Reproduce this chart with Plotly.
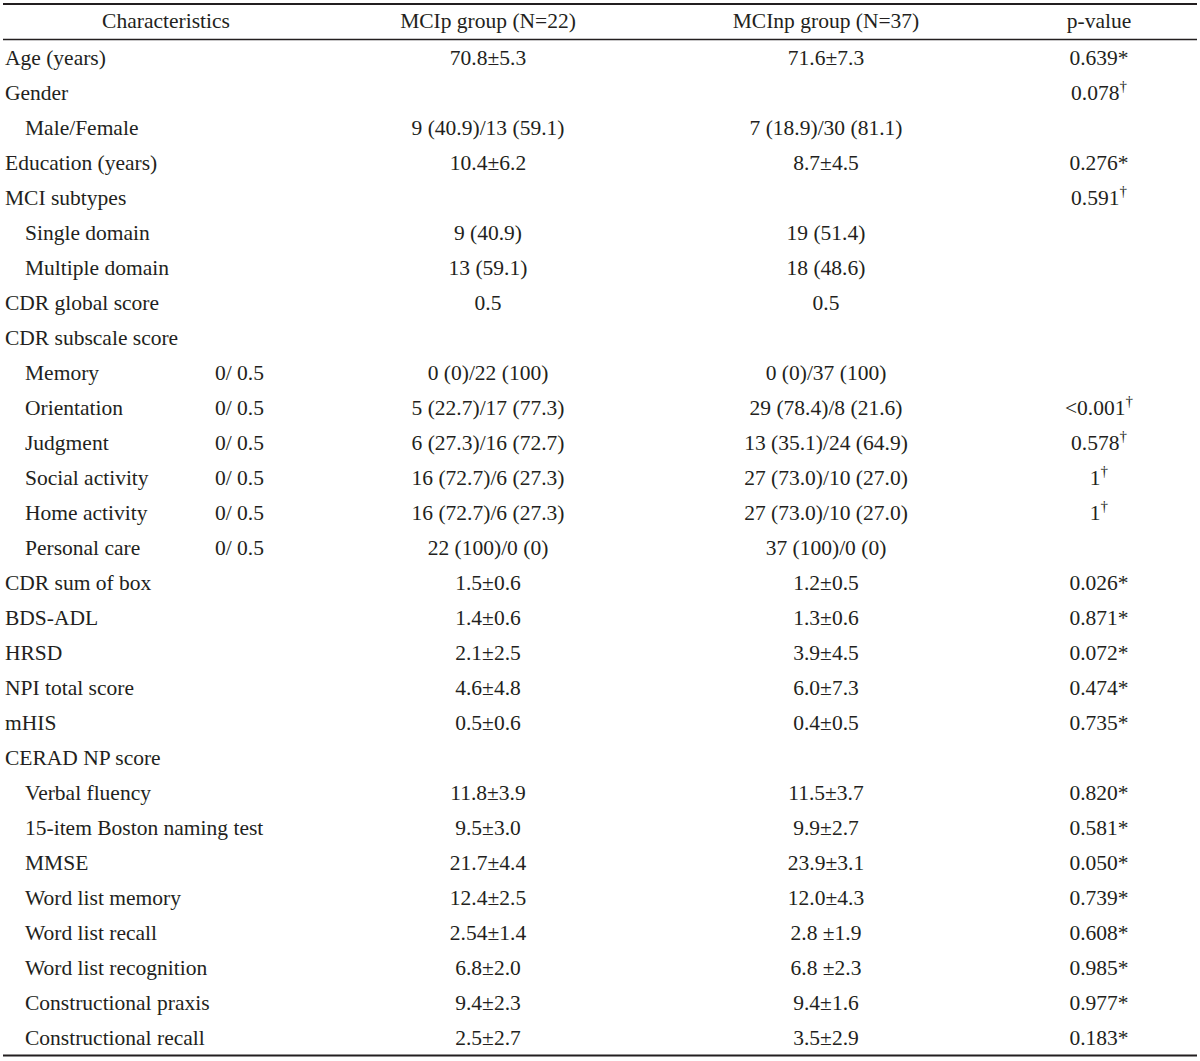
import plotly.graph_objects as go

# ---- data ----
headers = ["Characteristics", "MCIp group (N=22)", "MCInp group (N=37)", "p-value"]

characteristics = [
    "Age (years)", "Gender", "Male/Female", "Education (years)", "MCI subtypes",
    "Single domain", "Multiple domain", "CDR global score", "CDR subscale score",
    "Memory", "Orientation", "Judgment", "Social activity", "Home activity",
    "Personal care", "CDR sum of box", "BDS-ADL", "HRSD", "NPI total score",
    "mHIS", "CERAD NP score", "Verbal fluency", "15-item Boston naming test",
    "MMSE", "Word list memory", "Word list recall", "Word list recognition",
    "Constructional praxis", "Constructional recall",
]
is_sub = [
    False, False, True, False, False,
    True, True, False, False,
    True, True, True, True, True,
    True, False, False, False, False,
    False, False, True, True,
    True, True, True, True,
    True, True,
]
scale_labels = [
    "", "", "", "", "", "", "", "", "",
    "0/ 0.5", "0/ 0.5", "0/ 0.5", "0/ 0.5", "0/ 0.5", "0/ 0.5",
    "", "", "", "", "", "", "", "", "", "", "", "", "", "",
]
mcip = [
    "70.8±5.3", "", "9 (40.9)/13 (59.1)", "10.4±6.2", "",
    "9 (40.9)", "13 (59.1)", "0.5", "",
    "0 (0)/22 (100)", "5 (22.7)/17 (77.3)", "6 (27.3)/16 (72.7)",
    "16 (72.7)/6 (27.3)", "16 (72.7)/6 (27.3)", "22 (100)/0 (0)",
    "1.5±0.6", "1.4±0.6", "2.1±2.5", "4.6±4.8", "0.5±0.6", "",
    "11.8±3.9", "9.5±3.0", "21.7±4.4", "12.4±2.5", "2.54±1.4", "6.8±2.0",
    "9.4±2.3", "2.5±2.7",
]
mcinp = [
    "71.6±7.3", "", "7 (18.9)/30 (81.1)", "8.7±4.5", "",
    "19 (51.4)", "18 (48.6)", "0.5", "",
    "0 (0)/37 (100)", "29 (78.4)/8 (21.6)", "13 (35.1)/24 (64.9)",
    "27 (73.0)/10 (27.0)", "27 (73.0)/10 (27.0)", "37 (100)/0 (0)",
    "1.2±0.5", "1.3±0.6", "3.9±4.5", "6.0±7.3", "0.4±0.5", "",
    "11.5±3.7", "9.9±2.7", "23.9±3.1", "12.0±4.3", "2.8 ±1.9", "6.8 ±2.3",
    "9.4±1.6", "3.5±2.9",
]
pvalues = [
    "0.639*", "0.078<sup>†</sup>", "", "0.276*", "0.591<sup>†</sup>",
    "", "", "", "",
    "", "<0.001<sup>†</sup>", "0.578<sup>†</sup>", "1<sup>†</sup>", "1<sup>†</sup>", "",
    "0.026*", "0.871*", "0.072*", "0.474*", "0.735*", "",
    "0.820*", "0.581*", "0.050*", "0.739*", "0.608*", "0.985*",
    "0.977*", "0.183*",
]

# ---- layout constants ----
W, H = 1200, 1061
FONT = dict(family="Liberation Serif, Times New Roman, serif", size=21.5, color="#231f20")
LINE = "#231f20"
X_MAIN, X_SUB, X_SCALE = 5, 25, 215
X_MCIP, X_MCINP, X_P = 488, 826, 1099
X_CHAR_HEAD = 166
ROW0_PX, ROW_PX = 58, 35
TEXT_DY = 2  # text baseline nudge (px)


def px_to_row(p):
    return (p - ROW0_PX) / ROW_PX


rows = list(range(len(characteristics)))
dy = TEXT_DY / ROW_PX
head_y = px_to_row(21) + dy

fig = go.Figure()


def add_col(xpos, texts, idx, pos):
    keep = [i for i in idx if texts[i]]
    fig.add_trace(go.Scatter(
        x=[xpos] * len(keep), y=[i + dy for i in keep],
        text=[texts[i] for i in keep],
        mode="text", textposition=pos, textfont=FONT, hoverinfo="skip"))


add_col(X_MAIN, characteristics, [i for i in rows if not is_sub[i]], "middle right")
add_col(X_SUB, characteristics, [i for i in rows if is_sub[i]], "middle right")
add_col(X_SCALE, scale_labels, rows, "middle right")
add_col(X_MCIP, mcip, rows, "middle center")
add_col(X_MCINP, mcinp, rows, "middle center")
add_col(X_P, pvalues, rows, "middle center")

# header
fig.add_trace(go.Scatter(
    x=[X_CHAR_HEAD, X_MCIP, X_MCINP, X_P], y=[head_y] * 4, text=headers,
    mode="text", textposition="middle center", textfont=FONT, hoverinfo="skip"))

# rules
for p, w in [(4, 2), (39.5, 1.3), (1055.5, 2)]:
    yv = px_to_row(p)
    fig.add_shape(type="line", x0=3, x1=1197, y0=yv, y1=yv, xref="x", yref="y",
                  line=dict(color=LINE, width=w))

fig.update_layout(
    width=W, height=H, margin=dict(l=0, r=0, t=0, b=0),
    paper_bgcolor="white", plot_bgcolor="white", showlegend=False,
    xaxis=dict(range=[0, W], visible=False, fixedrange=True),
    yaxis=dict(range=[px_to_row(H), px_to_row(0)], visible=False, fixedrange=True),
)

fig.write_html("out.html", config={"displayModeBar": False},
               post_script="document.body.style.margin='0';")
